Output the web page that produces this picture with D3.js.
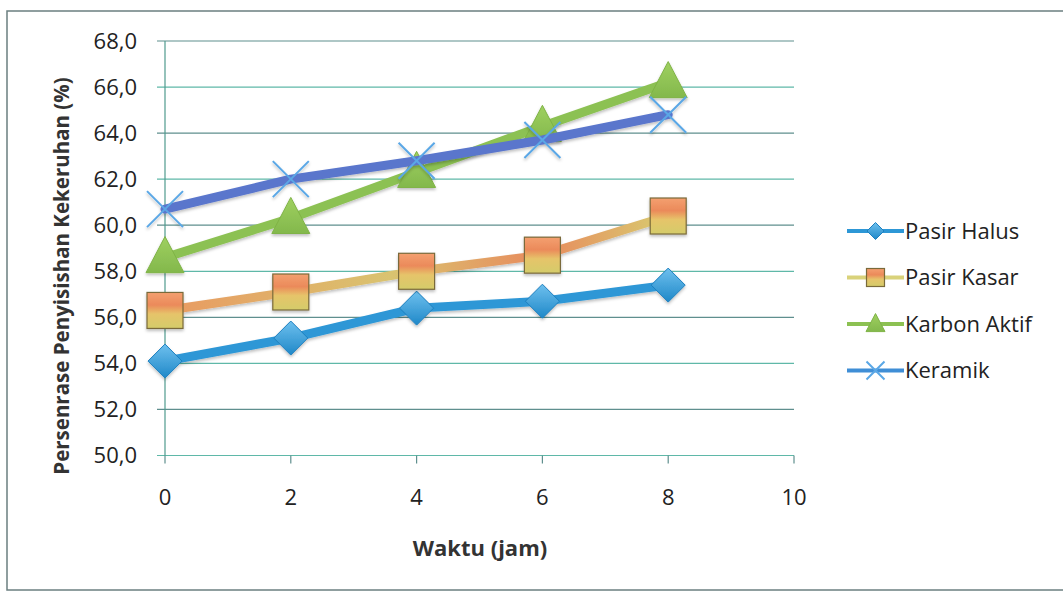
<!DOCTYPE html>
<html>
<head>
<meta charset="utf-8">
<script src="https://cdn.jsdelivr.net/npm/d3@7"></script>
<style>
  html, body { margin: 0; padding: 0; background: #fff; }
  svg { display: block; font-family: "Open Sans", "Noto Sans", sans-serif; }
</style>
</head>
<body>
<svg id="chart" width="1063" height="592"></svg>
<script>
// Removal of turbidity over time for four filter media
const hours = [0, 2, 4, 6, 8];
const pasirHalus  = [54.1, 55.1, 56.4, 56.7, 57.4];
const pasirKasar  = [56.3, 57.1, 58.0, 58.7, 60.4];
const karbonAktif = [58.6, 60.3, 62.3, 64.3, 66.2];
const keramik     = [60.7, 62.0, 62.8, 63.7, 64.8];
const seriesNames = ["Pasir Halus", "Pasir Kasar", "Karbon Aktif", "Keramik"];
const xTicks = [0, 2, 4, 6, 8, 10];
const yTicks = [50, 52, 54, 56, 58, 60, 62, 64, 66, 68];

const svg = d3.select("#chart");
const defs = svg.append("defs");

// frame around the chart
svg.append("rect").attr("x", 7).attr("y", 11).attr("width", 1070).attr("height", 579)
  .attr("fill", "none").attr("stroke", "#6b7f80").attr("stroke-width", 1.5);

const x = d3.scaleLinear().domain([0, 10]).range([165, 794]);
const y = d3.scaleLinear().domain([50, 68]).range([455.5, 41]);
const fmt = d => d.toFixed(1).replace(".", ",");

// horizontal gridlines
svg.append("g").selectAll("line").data(yTicks).join("line")
  .attr("x1", x(0) - 8).attr("x2", x(10))
  .attr("y1", d => y(d)).attr("y2", d => y(d))
  .attr("stroke", (d, i) => i % 2 ? "#5f8f8e" : "#5fb8a8").attr("stroke-width", 1.2);

// y axis line
svg.append("line").attr("x1", x(0)).attr("x2", x(0)).attr("y1", y(68)).attr("y2", y(50))
  .attr("stroke", "#4f9a8e").attr("stroke-width", 1.2);

// x tick marks
svg.append("g").selectAll("line").data(xTicks).join("line")
  .attr("x1", d => x(d)).attr("x2", d => x(d))
  .attr("y1", y(50)).attr("y2", y(50) + 8)
  .attr("stroke", "#5f8f8e").attr("stroke-width", 1.2);

// tick labels
svg.append("g").selectAll("text").data(yTicks).join("text")
  .attr("x", 137).attr("y", d => y(d)).attr("dy", "0.36em")
  .attr("text-anchor", "end").attr("font-size", 22).attr("fill", "#222")
  .text(fmt);
svg.append("g").selectAll("text").data(xTicks).join("text")
  .attr("x", d => x(d)).attr("y", 505)
  .attr("text-anchor", "middle").attr("font-size", 22).attr("fill", "#222")
  .text(d => d);

// axis titles
svg.append("text").attr("transform", "translate(69,276) rotate(-90)")
  .attr("text-anchor", "middle").attr("font-size", 20.5).attr("font-weight", "bold")
  .attr("fill", "#333").text("Persenrase Penyisishan Kekeruhan (%)");
svg.append("text").attr("x", 480).attr("y", 556)
  .attr("text-anchor", "middle").attr("font-size", 22).attr("font-weight", "bold")
  .attr("fill", "#333").text("Waktu (jam)");

// gradients
const lineGrad = defs.append("linearGradient").attr("id", "kasarLine")
  .attr("gradientUnits", "userSpaceOnUse")
  .attr("x1", x(0)).attr("x2", x(8)).attr("y1", 0).attr("y2", 0);
lineGrad.append("stop").attr("offset", "0").attr("stop-color", "#e99a62");
lineGrad.append("stop").attr("offset", "0.45").attr("stop-color", "#d9c36f");
lineGrad.append("stop").attr("offset", "0.75").attr("stop-color", "#e88a5e");
lineGrad.append("stop").attr("offset", "1").attr("stop-color", "#d8cc70");

const sqGrad = defs.append("linearGradient").attr("id", "kasarSq")
  .attr("x1", 0).attr("x2", 0).attr("y1", 0).attr("y2", 1);
sqGrad.append("stop").attr("offset", "0").attr("stop-color", "#f4a070");
sqGrad.append("stop").attr("offset", "0.35").attr("stop-color", "#eb8a5a");
sqGrad.append("stop").attr("offset", "0.6").attr("stop-color", "#e6c46a");
sqGrad.append("stop").attr("offset", "1").attr("stop-color", "#d4cc6a");

const diaGrad = defs.append("linearGradient").attr("id", "halusDia")
  .attr("x1", 0).attr("x2", 0).attr("y1", 0).attr("y2", 1);
diaGrad.append("stop").attr("offset", "0").attr("stop-color", "#6ec0ee");
diaGrad.append("stop").attr("offset", "1").attr("stop-color", "#1f88c8");

const triGrad = defs.append("linearGradient").attr("id", "karbonTri")
  .attr("x1", 0).attr("x2", 0).attr("y1", 0).attr("y2", 1);
triGrad.append("stop").attr("offset", "0").attr("stop-color", "#9fd060");
triGrad.append("stop").attr("offset", "1").attr("stop-color", "#83b84c");

const shadow = defs.append("filter").attr("id", "shadow")
  .attr("x", "-20%").attr("y", "-20%").attr("width", "140%").attr("height", "160%");
shadow.append("feDropShadow").attr("dx", 0).attr("dy", 2).attr("stdDeviation", 1.5)
  .attr("flood-color", "#000").attr("flood-opacity", 0.25);

const line = d3.line().x(d => x(d[0])).y(d => y(d[1]));
const pts = vals => hours.map((h, i) => [h, vals[i]]);

const series = [
  { name: seriesNames[0], vals: pasirHalus,  stroke: "#2d97d6", marker: "diamond" },
  { name: seriesNames[1], vals: pasirKasar,  stroke: "url(#kasarLine)", legendStroke: "#d9d27a", marker: "square" },
  { name: seriesNames[2], vals: karbonAktif, stroke: "#8cc152", marker: "triangle" },
  { name: seriesNames[3], vals: keramik,     stroke: "#5a76cc", legendStroke: "#3f8ed6", marker: "x" }
];

function drawMarker(g, type, cx, cy, scale) {
  const s = scale || 1;
  if (type === "diamond") {
    const r = 17 * s;
    g.append("path").attr("d", `M${cx},${cy - r}L${cx + r},${cy}L${cx},${cy + r}L${cx - r},${cy}Z`)
      .attr("fill", "url(#halusDia)").attr("stroke", "#1d7fbf").attr("stroke-width", 1);
  } else if (type === "square") {
    const h = 18 * s;
    g.append("rect").attr("x", cx - h).attr("y", cy - h).attr("width", 2 * h).attr("height", 2 * h)
      .attr("fill", "url(#kasarSq)").attr("stroke", "#7a6a3a").attr("stroke-width", 1.2);
  } else if (type === "triangle") {
    const h = 19 * s;
    g.append("path").attr("d", `M${cx},${cy - h * 1.1}L${cx + h},${cy + h * 0.8}L${cx - h},${cy + h * 0.8}Z`)
      .attr("fill", "url(#karbonTri)").attr("stroke", "#7fb346").attr("stroke-width", 1);
  } else {
    const h = 18 * s;
    g.append("path").attr("d", `M${cx - h},${cy - h}L${cx + h},${cy + h}M${cx - h},${cy + h}L${cx + h},${cy - h}`)
      .attr("stroke", "#5aa7e6").attr("stroke-width", 2).attr("fill", "none");
  }
}

// series: lines then markers, drawn in legend order
series.forEach(s => {
  const g = svg.append("g").attr("filter", "url(#shadow)");
  g.append("path").datum(pts(s.vals)).attr("d", line)
    .attr("fill", "none").attr("stroke", s.stroke).attr("stroke-width", 9)
    .attr("stroke-linejoin", "round").attr("stroke-linecap", "round");
  pts(s.vals).forEach(p => drawMarker(g, s.marker, x(p[0]), y(p[1])));
});

// legend
const legend = svg.append("g");
series.forEach((s, i) => {
  const ly = 231 + i * 46.5;
  legend.append("line").attr("x1", 847).attr("x2", 904).attr("y1", ly).attr("y2", ly)
    .attr("stroke", s.legendStroke || s.stroke).attr("stroke-width", 4);
  const g = legend.append("g");
  drawMarker(g, s.marker, 875.5, ly, 0.5);
  legend.append("text").attr("x", 905).attr("y", ly).attr("dy", "0.36em")
    .attr("font-size", 22).attr("fill", "#222").text(s.name);
});
</script>
</body>
</html>
